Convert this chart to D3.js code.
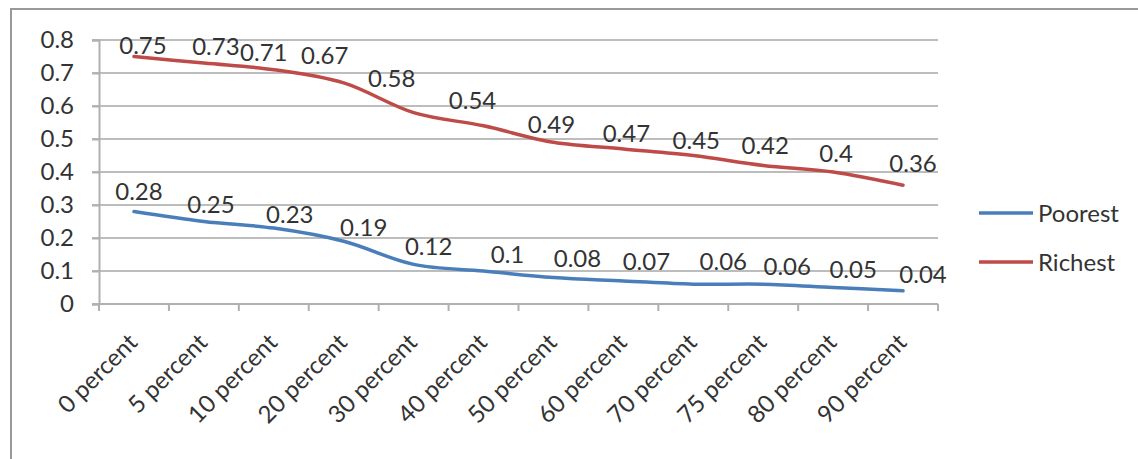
<!DOCTYPE html>
<html>
<head>
<meta charset="utf-8">
<script src="https://cdn.jsdelivr.net/npm/d3@7"></script>
<style>
  html, body { margin: 0; padding: 0; background: #fff; }
  svg { display: block; }
  text { font-family: Lato, "Open Sans", sans-serif; fill: #333; }
</style>
</head>
<body>
<svg id="chart" width="1138" height="459"></svg>
<script>
// Categories and series
const categories = ["0 percent", "5 percent", "10 percent", "20 percent", "30 percent", "40 percent",
                    "50 percent", "60 percent", "70 percent", "75 percent", "80 percent", "90 percent"];
const poorest = [0.28, 0.25, 0.23, 0.19, 0.12, 0.1, 0.08, 0.07, 0.06, 0.06, 0.05, 0.04];
const richest = [0.75, 0.73, 0.71, 0.67, 0.58, 0.54, 0.49, 0.47, 0.45, 0.42, 0.4, 0.36];
const yTicks = [0, 0.1, 0.2, 0.3, 0.4, 0.5, 0.6, 0.7, 0.8];
const seriesNames = ["Poorest", "Richest"];

// Hand-placed nudges for the value labels, relative to each point [dx, dy]
const poorestLabelNudge = [[5,-20],[7,-17],[16,-14],[20,-14],[15,-18],[24,-17],
                           [24,-19],[23,-20],[30,-23],[24,-18],[20,-18],[20,-16]];
const richestLabelNudge = [[9,-11],[12,-17],[-10,-17],[-19,-28],[-22,-34],[-11,-25],
                           [-2,-18],[3,-16],[3,-15],[2,-20],[3,-19],[10,-22]];

const colors = { Poorest: "#4a7ebb", Richest: "#be4b48" };

const svg = d3.select("#chart");
const fontSize = 24;

// Outer chart frame
svg.append("rect")
  .attr("x", 11).attr("y", 9)
  .attr("width", 1140).attr("height", 470)
  .attr("fill", "none").attr("stroke", "#999").attr("stroke-width", 2);

const plot = { left: 99, right: 938, top: 40, bottom: 304 };

const x = d3.scaleBand().domain(categories).range([plot.left, plot.right]).padding(0);
const y = d3.scaleLinear().domain([0, 0.8]).range([plot.bottom, plot.top]);
const cx = c => x(c) + x.bandwidth() / 2;

// Horizontal gridlines
svg.append("g")
  .selectAll("line")
  .data(yTicks)
  .join("line")
  .attr("x1", plot.left - 7).attr("x2", plot.right)
  .attr("y1", d => y(d)).attr("y2", d => y(d))
  .attr("stroke", "#bdbdbd").attr("stroke-width", 2);

// Y axis
const yAxis = svg.append("g")
  .attr("transform", `translate(${plot.left},0)`)
  .call(d3.axisLeft(y).tickValues(yTicks).tickFormat(d => String(+d.toFixed(1))).tickSize(7).tickPadding(18));
yAxis.select(".domain").attr("stroke", "#b0b0b0").attr("stroke-width", 2);
yAxis.selectAll(".tick line").attr("stroke", "#b0b0b0").attr("stroke-width", 2);
yAxis.selectAll(".tick text")
  .style("font-family", "Lato, sans-serif").style("font-size", fontSize + "px").attr("fill", "#333");

// X axis: ticks on category boundaries
const boundaries = categories.map(c => x(c)).concat([plot.right]);
const xAxisG = svg.append("g");
xAxisG.append("line")
  .attr("x1", plot.left).attr("x2", plot.right)
  .attr("y1", plot.bottom).attr("y2", plot.bottom)
  .attr("stroke", "#b0b0b0").attr("stroke-width", 2);
xAxisG.selectAll("line.tk")
  .data(boundaries)
  .join("line")
  .attr("class", "tk")
  .attr("x1", d => d).attr("x2", d => d)
  .attr("y1", plot.bottom).attr("y2", plot.bottom + 7)
  .attr("stroke", "#b0b0b0").attr("stroke-width", 2);

// Rotated category labels
xAxisG.selectAll("text")
  .data(categories)
  .join("text")
  .attr("transform", d => `translate(${cx(d) + 5},${plot.bottom + 40}) rotate(-45)`)
  .attr("text-anchor", "end")
  .style("font-size", fontSize + "px")
  .text(d => d);

// Series lines
const line = d3.line()
  .x((d, i) => cx(categories[i]))
  .y(d => y(d))
  .curve(d3.curveCatmullRom.alpha(0.5));

const series = [
  { name: "Poorest", values: poorest, nudge: poorestLabelNudge },
  { name: "Richest", values: richest, nudge: richestLabelNudge }
];

svg.append("g")
  .selectAll("path")
  .data(series)
  .join("path")
  .attr("d", s => line(s.values))
  .attr("fill", "none")
  .attr("stroke", s => colors[s.name])
  .attr("stroke-width", 3.5)
  .attr("stroke-linecap", "round")
  .attr("stroke-linejoin", "round");

// Value labels
series.forEach(s => {
  svg.append("g")
    .selectAll("text")
    .data(s.values)
    .join("text")
    .attr("x", (d, i) => cx(categories[i]) + s.nudge[i][0])
    .attr("y", (d, i) => y(d) + s.nudge[i][1])
    .attr("dy", "0.36em")
    .attr("text-anchor", "middle")
    .style("font-size", fontSize + "px")
    .text(d => String(d));
});

// Legend
const legend = svg.append("g");
seriesNames.forEach((name, i) => {
  const ly = 213 + i * 49;
  legend.append("line")
    .attr("x1", 979).attr("x2", 1033)
    .attr("y1", ly).attr("y2", ly)
    .attr("stroke", colors[name]).attr("stroke-width", 3.5);
  legend.append("text")
    .attr("x", 1038).attr("y", ly)
    .attr("dy", "0.36em")
    .style("font-size", fontSize + "px")
    .text(name);
});
</script>
</body>
</html>
